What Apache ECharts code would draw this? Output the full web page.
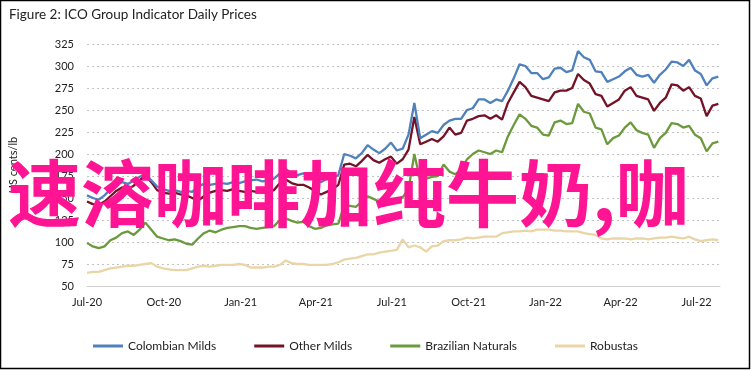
<!DOCTYPE html>
<html>
<head>
<meta charset="utf-8">
<script src="https://cdn.jsdelivr.net/npm/echarts@6/dist/echarts.min.js"></script>
<style>
html,body{margin:0;padding:0;background:#fff;}
#chart{width:751px;height:370px;}
</style>
</head>
<body>
<div id="chart"></div>
<script>
// ---- data (weekly samples, US cents/lb) ----
const startDate = '2020-07-01';   // first weekly sample
const stepDays = 7;               // one sample per week
const seriesNames = ['Colombian Milds', 'Other Milds', 'Brazilian Naturals', 'Robustas'];
const colombianMilds = [153,150,148,153,160,165,168,166,170,174,178,170,163,160,158,159,157,158,157,163,166,165,166,167,166,168,167,169,170,171,169,170,172,178,183,178,176,178,174,170,168,172,173,176,200,198,195,201,210,205,201,206,213,204,206,222,258,218,222,226,224,233,238,240,240,250,252,262,262,258,262,260,272,286,302,300,292,292,285,287,297,298,293,295,317,310,307,294,293,282,285,288,294,298,290,288,290,281,290,296,305,304,300,307,295,291,278,286,288];
const otherMilds = [146,143,142,146,152,158,162,160,164,170,176,168,159,156,155,156,154,153,150,147,152,156,158,159,158,160,158,157,158,157,156,157,159,167,171,167,165,165,162,158,154,157,160,165,188,189,186,192,199,193,190,194,197,189,194,205,242,211,214,217,214,220,230,222,224,238,240,243,244,240,244,239,258,270,282,276,266,264,262,260,270,272,272,275,291,284,280,268,266,254,258,262,272,276,266,264,262,249,258,264,279,278,272,276,266,263,243,255,257];
const brazilianNaturals = [99,95,93,95,102,105,110,112,108,114,122,114,106,104,102,103,101,98,97,104,110,113,111,114,116,117,118,118,116,115,116,117,118,125,127,124,122,123,118,115,116,119,120,121,142,141,140,146,152,149,146,148,146,145,151,160,200,170,172,174,175,188,180,177,182,194,200,204,202,200,204,202,220,233,245,240,232,230,222,221,236,238,234,235,257,248,246,230,228,211,218,221,230,236,227,224,222,207,218,224,235,234,230,232,222,218,203,212,214];
const robustas = [65,66,66,68,70,71,72,73,73,74,75,76,72,70,69,68,68,68,70,72,73,72,73,74,74,74,75,74,71,71,71,72,72,74,79,76,75,75,74,74,74,74,75,77,80,81,82,84,86,86,88,89,90,91,103,94,96,94,89,95,96,101,102,102,103,105,104,105,106,106,106,110,111,112,112,113,112,114,114,114,113,113,112,112,112,110,109,108,104,103,104,104,104,103,104,104,103,104,105,105,106,105,104,106,103,101,102,103,102];
const axisEnd = '2022-07-29';
const tickDates = ['2020-07-01','2020-10-01','2021-01-01','2021-04-01','2021-07-01','2021-10-01','2022-01-01','2022-04-01','2022-07-01'];
const tickLabels = ['Jul-20','Oct-20','Jan-21','Apr-21','Jul-21','Oct-21','Jan-22','Apr-22','Jul-22'];
const yMin = 50, yMax = 325, yStep = 25;
const colors = ['#4f81bd', '#741228', '#6b9a3c', '#ead5a6'];
const titleText = 'Figure 2: ICO Group Indicator Daily Prices';
const yAxisTitle = 'US cents/lb';
const overlayText = '速溶咖啡加纯牛奶,咖';

// day offsets from the start date
function dayOf(s){ return Math.round((Date.UTC.apply(null, s.split('-').map((n,i)=>i===1?Number(n)-1:Number(n))) - Date.UTC(2020,6,1)) / 86400000); }
const startDay = dayOf(startDate);
function pairs(vals){ return vals.map((v,i)=>[startDay + i*stepDays, v]); }
const tickDays = tickDates.map(dayOf);
const labelByDay = {}; tickDays.forEach((d,i)=>{ labelByDay[d] = tickLabels[i]; });

const chart = echarts.init(document.getElementById('chart'), null, {renderer:'canvas'});
const allVals = [colombianMilds, otherMilds, brazilianNaturals, robustas];
const FONT = 'Lato, "Liberation Sans", sans-serif';
chart.setOption({
  animation:false,
  backgroundColor:'#fff',
  textStyle:{fontFamily:FONT},
  title:{text:titleText, left:4, top:3, textStyle:{fontFamily:FONT, fontSize:13.5, fontWeight:'normal', color:'#222'}},
  grid:{left:82, right:31, top:44, bottom:84, containLabel:false},
  legend:{
    left:88, top:335, icon:'rect', itemWidth:30, itemHeight:3, itemGap:38,
    textStyle:{fontFamily:FONT, fontSize:12, color:'#222'},
    data:seriesNames
  },
  xAxis:{
    type:'value', min:0, max:dayOf(axisEnd),
    axisLine:{show:true, lineStyle:{color:'#d0d0d0', width:1}},
    axisTick:{show:false},
    splitLine:{show:false},
    axisLabel:{customValues:tickDays, margin:11, fontSize:11, color:'#222', fontFamily:FONT,
      formatter:function(v){ return labelByDay[v] !== undefined ? labelByDay[v] : ''; }}
  },
  yAxis:{
    type:'value', min:yMin, max:yMax, interval:yStep,
    name:yAxisTitle, nameLocation:'middle', nameGap:68, nameRotate:90,
    nameTextStyle:{fontSize:11, color:'#222', fontFamily:FONT},
    axisLine:{show:false}, axisTick:{show:false},
    axisLabel:{margin:13, fontSize:11, color:'#222', fontFamily:FONT},
    splitLine:{show:true, lineStyle:{type:[2,3], color:'#c4c4c4', width:1}}
  },
  series: seriesNames.map((n,i)=>({
    name:n, type:'line', data:pairs(allVals[i]), showSymbol:false, symbol:'none',
    lineStyle:{width:2.3, color:colors[i]}, itemStyle:{color:colors[i]}, z:10-i
  })),
  graphic:[
    {type:'rect', shape:{x:0.5, y:0.5, width:749, height:368}, style:{fill:'none', stroke:'#000', lineWidth:1.5}, z:100, silent:true},
    {type:'text', x:8, y:193, style:{text:overlayText, fill:'#ff1493', font:'bold 73px "Noto Sans CJK SC"', verticalAlign:'middle'}, z:200, silent:true}
  ]
});
</script>
</body>
</html>
